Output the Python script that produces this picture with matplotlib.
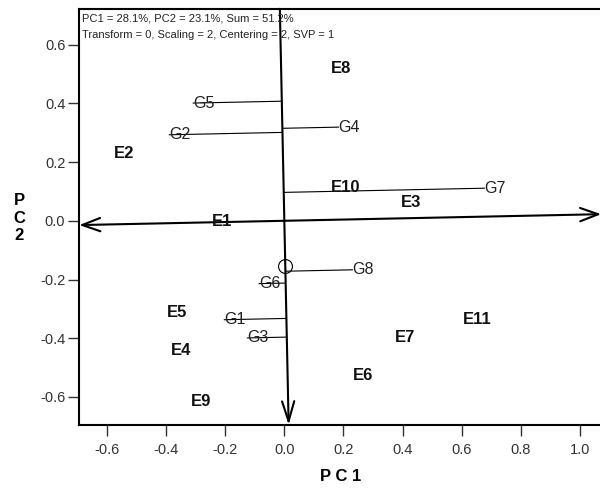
import matplotlib.pyplot as plt
import numpy as np

plt.rcParams['font.family'] = ['Liberation Sans', 'DejaVu Sans']

# environment scores (label centres)
env_names = ['E1', 'E2', 'E3', 'E4', 'E5', 'E6', 'E7', 'E8', 'E9', 'E10', 'E11']
env_x = [-0.21, -0.541, 0.43, -0.349, -0.362, 0.267, 0.41, 0.193, -0.281, 0.206, 0.653]
env_y = [-0.003, 0.228, 0.061, -0.443, -0.313, -0.528, -0.399, 0.518, -0.617, 0.112, -0.337]

# genotype scores
gen_names = ['G1', 'G2', 'G3', 'G4', 'G5', 'G6', 'G7', 'G8']
gen_x = [-0.203, -0.389, -0.125, 0.183, -0.308, -0.085, 0.677, 0.230]
gen_y = [-0.337, 0.293, -0.399, 0.319, 0.401, -0.214, 0.111, -0.167]

# slope of the average-tester abscissa, and the marked point on the ordinate
atc_slope = 0.021
circle_y = -0.153

xlim = (-0.694, 1.072)
ylim = (-0.695, 0.722)

fig = plt.figure(figsize=(6, 4.9), dpi=100)
ax = fig.add_axes([0.132, 0.133, 0.87, 0.849])
ax.set_xlim(xlim)
ax.set_ylim(ylim)

# ATC abscissa (arrows both ends)
ax.annotate('', xy=(xlim[1], atc_slope * xlim[1]), xytext=(xlim[0], atc_slope * xlim[0]),
            arrowprops=dict(arrowstyle='<->, head_length=0.65, head_width=0.24',
                            lw=1.5, color='black', shrinkA=0, shrinkB=0,
                            mutation_scale=20))
# ATC ordinate (arrow at bottom)
ax.annotate('', xy=(-atc_slope * ylim[0], ylim[0]), xytext=(-atc_slope * ylim[1], ylim[1]),
            arrowprops=dict(arrowstyle='->, head_length=0.72, head_width=0.22',
                            lw=1.5, color='black', shrinkA=0, shrinkB=0,
                            mutation_scale=20))

# projections of genotypes onto the ordinate
d = np.array([-atc_slope, 1.0]) / np.hypot(atc_slope, 1.0)
for name, gx, gy in zip(gen_names, gen_x, gen_y):
    p = np.array([gx, gy])
    foot = p.dot(d) * d
    ax.plot([gx, foot[0]], [gy, foot[1]], color='black', lw=0.8)
    ax.text(gx, gy, name, ha='left', va='center', fontsize=11.5, color='#222222')

ax.plot(-atc_slope * circle_y, circle_y, 'o', mfc='none', mec='black',
        ms=10, mew=0.8)

for name, ex, ey in zip(env_names, env_x, env_y):
    ax.text(ex, ey, name, ha='center', va='center', fontsize=12,
            fontweight='bold', color='#111111')

ax.text(0.005, 0.988, 'PC1 = 28.1%, PC2 = 23.1%, Sum = 51.2%\n'
        'Transform = 0, Scaling = 2, Centering = 2, SVP = 1',
        transform=ax.transAxes, ha='left', va='top', fontsize=8,
        linespacing=1.75, color='#222222')

ax.set_xticks([-0.6, -0.4, -0.2, 0.0, 0.2, 0.4, 0.6, 0.8, 1.0])
ax.set_yticks([-0.6, -0.4, -0.2, 0.0, 0.2, 0.4, 0.6])
ax.xaxis.set_major_formatter(plt.FormatStrFormatter('%.1f'))
ax.yaxis.set_major_formatter(plt.FormatStrFormatter('%.1f'))
ax.tick_params(direction='out', length=8, width=1, color='#333333',
               labelsize=10.5, labelcolor='#333333')
ax.tick_params(axis='x', pad=5)
ax.tick_params(axis='y', pad=2)
ax.spines['right'].set_visible(False)
for s in ['left', 'bottom', 'top']:
    ax.spines[s].set_linewidth(1.5)

fig.text(0.567, 0.027, 'P C 1', ha='center', va='center', fontsize=12, fontweight='bold')
fig.text(0.032, 0.555, 'P\nC\n2', ha='center', va='center', fontsize=12,
         fontweight='bold', linespacing=1.2)

fig.savefig('out.png', dpi=100)
